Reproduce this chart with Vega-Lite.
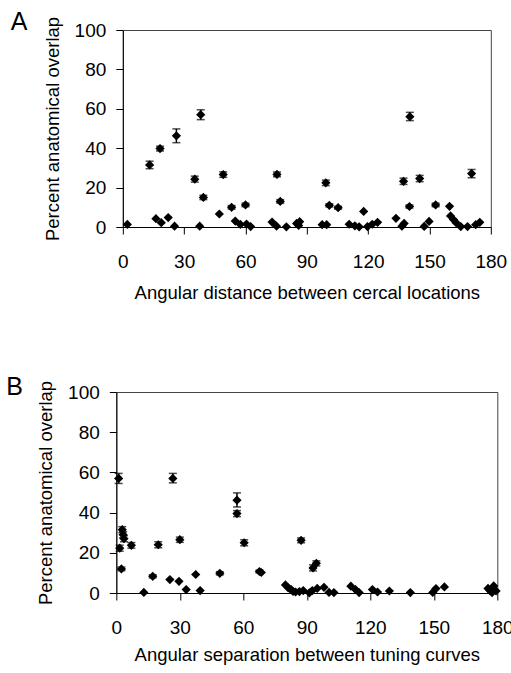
{
  "$schema": "https://vega.github.io/schema/vega-lite/v6.json",
  "padding": {"left": 5, "top": 9, "right": 2, "bottom": 2},
  "background": "white",
  "config": {
    "font": "Liberation Sans",
    "view": {"stroke": "#444", "strokeWidth": 1},
    "axis": {
      "grid": false,
      "domainColor": "black",
      "tickColor": "black",
      "labelColor": "black",
      "titleColor": "black",
      "labelFont": "Liberation Sans",
      "titleFont": "Liberation Sans",
      "labelFontSize": 19,
      "titleFontSize": 18.5,
      "titleFontWeight": "normal",
      "tickSize": 7,
      "labelFlush": false,
      "labelOverlap": false
    }
  },
  "datasets": {
    "A": [
      {"angle": 2.2, "overlap": 1.3},
      {"angle": 16.2, "overlap": 4.2},
      {"angle": 18.8, "overlap": 2.2},
      {"angle": 22.2, "overlap": 4.8},
      {"angle": 25.3, "overlap": 0.4},
      {"angle": 37.6, "overlap": 0.4},
      {"angle": 47.2, "overlap": 6.6},
      {"angle": 55, "overlap": 3},
      {"angle": 57.5, "overlap": 1.3},
      {"angle": 60.5, "overlap": 1.5},
      {"angle": 62.5, "overlap": 0.2},
      {"angle": 73, "overlap": 2.5},
      {"angle": 75.2, "overlap": 0.4},
      {"angle": 80, "overlap": 0.1},
      {"angle": 85, "overlap": 1.8},
      {"angle": 86, "overlap": 0.8},
      {"angle": 86.5, "overlap": 2.7},
      {"angle": 97.5, "overlap": 1.2},
      {"angle": 99.7, "overlap": 1.2},
      {"angle": 110.7, "overlap": 1.4},
      {"angle": 113.5, "overlap": 0.6},
      {"angle": 115.6, "overlap": 0.1},
      {"angle": 117.8, "overlap": 7.9},
      {"angle": 119.7, "overlap": 0.2},
      {"angle": 122, "overlap": 1.4},
      {"angle": 124.6, "overlap": 2.4},
      {"angle": 133.6, "overlap": 4.4},
      {"angle": 136.5, "overlap": 0.4},
      {"angle": 137.6, "overlap": 1.8},
      {"angle": 147.4, "overlap": 0.3},
      {"angle": 149.8, "overlap": 2.8},
      {"angle": 159.8, "overlap": 10.5},
      {"angle": 160.3, "overlap": 5.6},
      {"angle": 161.7, "overlap": 3.8},
      {"angle": 163, "overlap": 2.2},
      {"angle": 165.3, "overlap": 0.2},
      {"angle": 168.6, "overlap": 0.2},
      {"angle": 172.6, "overlap": 1.2},
      {"angle": 174.6, "overlap": 2.4},
      {"angle": 39.4, "overlap": 15, "lo": 13.9, "hi": 16.1},
      {"angle": 53.2, "overlap": 10, "lo": 9.1, "hi": 10.9},
      {"angle": 60, "overlap": 11.2, "lo": 10.3, "hi": 12.1},
      {"angle": 77, "overlap": 13, "lo": 12.1, "hi": 13.9},
      {"angle": 101, "overlap": 11, "lo": 10.2, "hi": 11.8},
      {"angle": 105.3, "overlap": 9.8, "lo": 9.1, "hi": 10.5},
      {"angle": 140.2, "overlap": 10.4, "lo": 9.6, "hi": 11.2},
      {"angle": 153, "overlap": 11.2, "lo": 10.3, "hi": 12.1},
      {"angle": 13.1, "overlap": 31.5, "lo": 29.6, "hi": 33.4},
      {"angle": 18.2, "overlap": 39.8, "lo": 38.6, "hi": 41},
      {"angle": 26.2, "overlap": 46.3, "lo": 42.8, "hi": 49.8},
      {"angle": 38.1, "overlap": 57, "lo": 54.5, "hi": 59.5},
      {"angle": 35.2, "overlap": 24.3, "lo": 22.8, "hi": 25.8},
      {"angle": 49.1, "overlap": 26.6, "lo": 25.2, "hi": 28},
      {"angle": 75.4, "overlap": 26.7, "lo": 25.5, "hi": 27.9},
      {"angle": 99.3, "overlap": 22.4, "lo": 21, "hi": 23.8},
      {"angle": 137.3, "overlap": 23.2, "lo": 21.6, "hi": 24.8},
      {"angle": 140.4, "overlap": 56, "lo": 54, "hi": 58.2},
      {"angle": 145.2, "overlap": 24.6, "lo": 23, "hi": 26.2},
      {"angle": 170.6, "overlap": 27.1, "lo": 25, "hi": 29.2}
    ],
    "B": [
      {"angle": 1.1, "overlap": 57, "lo": 54.5, "hi": 59.5},
      {"angle": 1.6, "overlap": 22.3, "lo": 20.8, "hi": 23.8},
      {"angle": 2.8, "overlap": 31.5, "lo": 30, "hi": 33},
      {"angle": 3.2, "overlap": 29, "lo": 27.5, "hi": 30.5},
      {"angle": 3.6, "overlap": 27, "lo": 25.5, "hi": 28.5},
      {"angle": 7.1, "overlap": 23.7, "lo": 22.3, "hi": 25.1},
      {"angle": 19.8, "overlap": 24, "lo": 22.5, "hi": 25.5},
      {"angle": 26.7, "overlap": 57, "lo": 54.8, "hi": 59.5},
      {"angle": 30, "overlap": 26.5, "lo": 25.2, "hi": 27.8},
      {"angle": 57, "overlap": 46.2, "lo": 42.8, "hi": 49.8},
      {"angle": 57, "overlap": 39.5, "lo": 38, "hi": 41},
      {"angle": 60.4, "overlap": 25, "lo": 23.5, "hi": 26.5},
      {"angle": 87.3, "overlap": 26.2, "lo": 25, "hi": 27.4},
      {"angle": 92.9, "overlap": 12.5, "lo": 11, "hi": 14},
      {"angle": 94.5, "overlap": 14.8, "lo": 13.5, "hi": 16},
      {"angle": 2.4, "overlap": 12, "lo": 11.1, "hi": 12.9},
      {"angle": 17.2, "overlap": 8.3, "lo": 7.5, "hi": 9.1},
      {"angle": 48.9, "overlap": 9.8, "lo": 9, "hi": 10.6},
      {"angle": 67.6, "overlap": 10.7, "lo": 10, "hi": 11.4},
      {"angle": 68.5, "overlap": 10.2},
      {"angle": 13, "overlap": 0.3},
      {"angle": 25.3, "overlap": 6.7},
      {"angle": 29.6, "overlap": 5.8},
      {"angle": 33, "overlap": 1.7},
      {"angle": 37.5, "overlap": 9.2},
      {"angle": 39.6, "overlap": 1.2},
      {"angle": 79.9, "overlap": 4},
      {"angle": 81.2, "overlap": 2.6},
      {"angle": 82.5, "overlap": 1.8},
      {"angle": 83.5, "overlap": 0.8},
      {"angle": 84.7, "overlap": 0.5},
      {"angle": 86.5, "overlap": 0.7},
      {"angle": 88.3, "overlap": 1.2},
      {"angle": 91.2, "overlap": 0.1},
      {"angle": 92.6, "overlap": 1.2},
      {"angle": 94.9, "overlap": 2.3},
      {"angle": 98.1, "overlap": 2.8},
      {"angle": 100.5, "overlap": 0.3},
      {"angle": 102.8, "overlap": 0.2},
      {"angle": 110.8, "overlap": 3.4},
      {"angle": 113, "overlap": 1.7},
      {"angle": 114.7, "overlap": 0.2},
      {"angle": 121, "overlap": 1.7},
      {"angle": 123.4, "overlap": 0.5},
      {"angle": 129, "overlap": 1},
      {"angle": 138.9, "overlap": 0.2},
      {"angle": 149.5, "overlap": 0.3},
      {"angle": 151, "overlap": 2.2},
      {"angle": 155, "overlap": 3},
      {"angle": 175.6, "overlap": 2.3},
      {"angle": 176.5, "overlap": 1.2},
      {"angle": 177.5, "overlap": 0.2},
      {"angle": 178.3, "overlap": 3.5},
      {"angle": 179.4, "overlap": 1}
    ]
  },
  "spacing": 72,
  "center": true,
  "vconcat": [
    {
      "title": {"text": "A", "anchor": "start", "frame": "group", "dx": -112, "dy": 39, "offset": 0, "baseline": "alphabetic", "fontSize": 25, "fontWeight": "normal", "font": "Liberation Sans", "color": "black"},
      "width": 368,
      "height": 197,
      "data": {"name": "A"},
      "encoding": {
        "x": {"field": "angle", "type": "quantitative", "scale": {"domain": [0, 180], "nice": false},
              "axis": {"values": [0, 30, 60, 90, 120, 150, 180], "title": "Angular distance between cercal locations", "labelPadding": 18, "titlePadding": 12}},
        "y": {"field": "overlap", "type": "quantitative", "scale": {"domain": [0, 100], "nice": false},
              "axis": {"values": [0, 20, 40, 60, 80, 100], "title": "Percent anatomical overlap", "labelPadding": 10, "titlePadding": 12}}
      },
      "layer": [
        {
          "transform": [{"filter": "isValid(datum.lo)"}],
          "mark": {"type": "errorbar", "ticks": {"size": 8, "thickness": 1.5, "color": "black"}, "rule": {"strokeWidth": 1.5, "color": "black"}},
          "encoding": {
            "y": {"field": "lo", "type": "quantitative"},
            "y2": {"field": "hi"}
          }
        },
        {
          "mark": {"type": "point", "shape": "diamond", "filled": true, "color": "black", "size": 85, "opacity": 1}
        }
      ]
    },
    {
      "title": {"text": "B", "anchor": "start", "frame": "group", "dx": -110, "dy": 40, "offset": 0, "baseline": "alphabetic", "fontSize": 25, "fontWeight": "normal", "font": "Liberation Sans", "color": "black"},
      "width": 381,
      "height": 201,
      "data": {"name": "B"},
      "encoding": {
        "x": {"field": "angle", "type": "quantitative", "scale": {"domain": [0, 180], "nice": false},
              "axis": {"values": [0, 30, 60, 90, 120, 150, 180], "title": "Angular separation between tuning curves", "labelPadding": 18, "titlePadding": 8}},
        "y": {"field": "overlap", "type": "quantitative", "scale": {"domain": [0, 100], "nice": false},
              "axis": {"values": [0, 20, 40, 60, 80, 100], "title": "Percent anatomical overlap", "labelPadding": 10, "titlePadding": 12}}
      },
      "layer": [
        {
          "transform": [{"filter": "isValid(datum.lo)"}],
          "mark": {"type": "errorbar", "ticks": {"size": 8, "thickness": 1.5, "color": "black"}, "rule": {"strokeWidth": 1.5, "color": "black"}},
          "encoding": {
            "y": {"field": "lo", "type": "quantitative"},
            "y2": {"field": "hi"}
          }
        },
        {
          "mark": {"type": "point", "shape": "diamond", "filled": true, "color": "black", "size": 85, "opacity": 1}
        }
      ]
    }
  ]
}
